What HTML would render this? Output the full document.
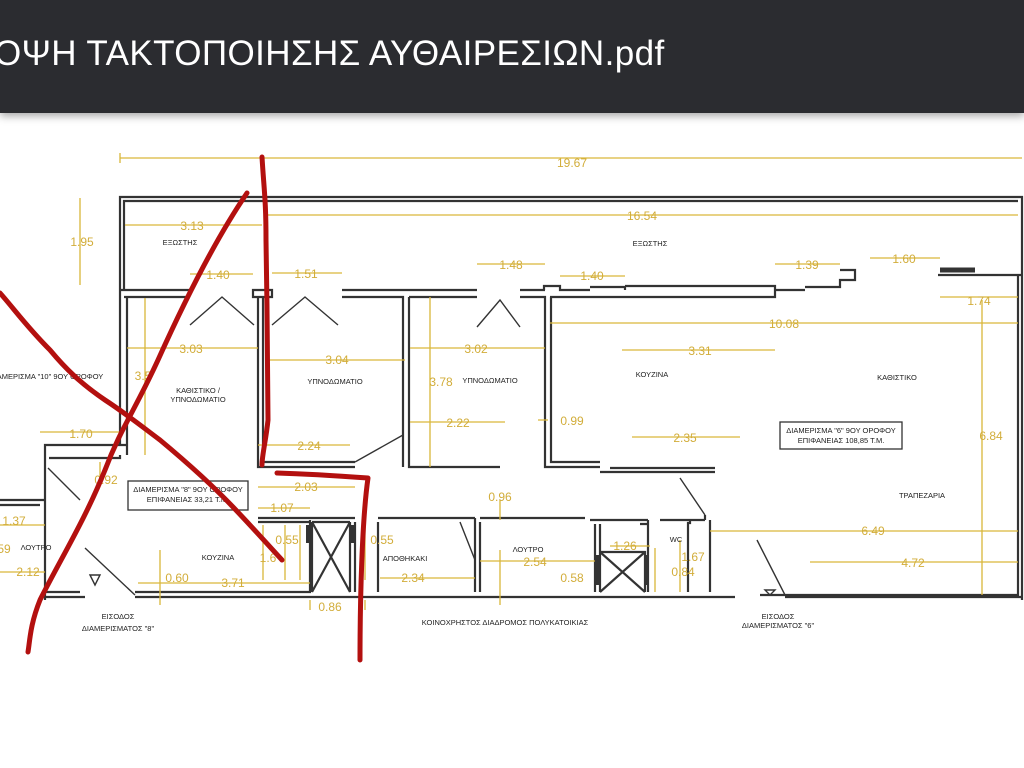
<!DOCTYPE html>
<html><head><meta charset="utf-8"><style>
html,body{margin:0;padding:0;width:1024px;height:768px;overflow:hidden;background:#fff;}
#hdr{position:absolute;left:0;top:0;width:1024px;height:113px;background:#2b2c30;box-shadow:0 3px 8px rgba(0,0,0,.35);}
#hdr span{position:absolute;left:-6px;top:34px;font:35px "Liberation Sans","DejaVu Sans",sans-serif;color:#fff;letter-spacing:0.4px;white-space:nowrap;}
svg{position:absolute;left:0;top:0;}
.w{stroke:#333;stroke-width:2.2;fill:none}
.d{stroke:#d9b63a;stroke-width:1.3;fill:none}
.t{font-family:"Liberation Sans","DejaVu Sans",sans-serif;fill:#d2ad3a;font-size:12px;text-anchor:middle}
.l{font-family:"Liberation Sans","DejaVu Sans",sans-serif;fill:#222;font-size:7.5px;text-anchor:middle}
.r{stroke:#b3100f;stroke-width:5;fill:none;stroke-linecap:round;stroke-linejoin:round}
</style></head><body>
<svg width="1024" height="768" viewBox="0 0 1024 768">
<g class="w">
<path d="M120 290 V197 H1022 V270"/>
<path d="M124 290 V201 H1018"/>
<path d="M120 290 H190 M124 297 H190 M120 290 V445 M127 297 V445 H45 V600 M127 445 V455 M49 458 H120 V455"/>
<path d="M253 290 H272 V297 H253 Z"/>
<path d="M258 297 V462 M263 297 V462 H355 M258 462 V467 H355"/>
<path d="M342 290 H477 M342 297 H403 V467 M409 297 V467 H500 M409 297 H477"/>
<path d="M520 290 H545 M520 297 H545 V467 H600 M551 297 V462 H600"/>
<path d="M544 290 V286 H560 V290 M560 286 V290 H590 M590 287 H625 V290 M625 286 H775 V297 H625 M775 290 H805 M805 287 H840 V280 H855 V270 H840"/>
<path d="M938 275 H1022 M1022 270 V600 M1018 275 V595 H760"/>
<path d="M550 297 H625"/>
<path d="M45 597 H85 M45 592 H80 M135 592 H310 V520 M135 597 H735 M785 597 H1022"/>
<path d="M0 500 H45 M0 505 H40"/>
<path d="M258 518 H355 M258 522 H310 M355 522 V592 M378 518 H460 M378 522 V592 M460 518 H475 M475 518 V592 M480 522 V592 M480 518 H585 M590 520 H648 M595 524 V592 M600 524 V592 M648 520 V592 M648 524 H640"/>
<path d="M660 520 H690 V523 H688 V592 M710 520 V592 M690 520 H705 M705 515 V520"/>
<path d="M600 472 H715 M610 468 H715"/>
<path d="M312 522 V592 M350 522 V592 M312 522 H350 M312 522 L350 592 M350 522 L312 592"/>
<path d="M600 552 H645 V592 M600 552 L645 592 M645 552 L600 592"/>
<path d="M940 270 H975" stroke-width="5"/>
</g>
<g stroke="#333" stroke-width="1.4" fill="none">
<path d="M190 325 L222 297 L254 325 M272 325 L305 297 L338 325 M477 327 L500 300 L520 327"/>
<path d="M355 462 L403 435 M48 468 L80 500 M85 548 L135 595 M460 522 L475 560 M680 478 L705 515 M757 540 L785 595"/>
<path d="M90 575 L95 585 L100 575 Z M770 595 L765 590 L775 590 Z"/>
</g>
<g fill="#333"><rect x="306" y="525" width="4" height="18"/><rect x="351" y="525" width="4" height="18"/><rect x="596" y="555" width="3" height="30"/><rect x="646" y="555" width="3" height="30"/></g>
<g class="d">
<path d="M120 158 H1022 M120 153 V163"/>
<path d="M80 198 V285"/>
<path d="M125 225 H262 M265 215 H1018"/>
<path d="M190 274 H253 M272 273 H342 M477 264 H545 M560 276 H625 M775 264 H840 M870 258 H940 M940 297 H1018"/>
<path d="M127 348 H258 M145 298 V455 M268 360 H405 M410 348 H545 M430 297 V467 M410 422 H505 M550 323 H1018 M622 350 H775 M632 437 H740 M538 420 H548"/>
<path d="M982 300 V595 M258 445 H350 M40 432 H120 M100 462 V480"/>
<path d="M258 487 H355 M258 508 H310 M263 525 V580 M285 525 V580 M300 525 V580 M365 525 V580 M365 600 V610 M310 600 V610"/>
<path d="M138 583 H310 M160 550 V605 M380 578 H475 M480 561 H595 M500 500 V520 M500 550 V605"/>
<path d="M0 525 H45 M0 572 H45 M610 546 H650 M655 548 V592 M680 540 V592 M710 531 H1018 M810 562 H1018"/>
</g>
<g class="t">
<text x="572" y="167">19.67</text>
<text x="82" y="246">1.95</text>
<text x="192" y="230">3.13</text>
<text x="642" y="220">16.54</text>
<text x="218" y="279">1.40</text>
<text x="306" y="278">1.51</text>
<text x="511" y="269">1.48</text>
<text x="592" y="280">1.40</text>
<text x="807" y="269">1.39</text>
<text x="904" y="263">1.60</text>
<text x="979" y="305">1.74</text>
<text x="191" y="353">3.03</text>
<text x="337" y="364">3.04</text>
<text x="476" y="353">3.02</text>
<text x="784" y="328">10.08</text>
<text x="143" y="380">3.5</text>
<text x="441" y="386">3.78</text>
<text x="700" y="355">3.31</text>
<text x="458" y="427">2.22</text>
<text x="572" y="425">0.99</text>
<text x="685" y="442">2.35</text>
<text x="991" y="440">6.84</text>
<text x="81" y="438">1.70</text>
<text x="309" y="450">2.24</text>
<text x="106" y="484">0.92</text>
<text x="306" y="491">2.03</text>
<text x="500" y="501">0.96</text>
<text x="282" y="512">1.07</text>
<text x="14" y="525">1.37</text>
<text x="287" y="544">0.55</text>
<text x="382" y="544">0.55</text>
<text x="268" y="562">1.6</text>
<text x="4" y="553">59</text>
<text x="28" y="576">2.12</text>
<text x="177" y="582">0.60</text>
<text x="233" y="587">3.71</text>
<text x="413" y="582">2.34</text>
<text x="535" y="566">2.54</text>
<text x="572" y="582">0.58</text>
<text x="625" y="550">1.26</text>
<text x="693" y="561">1.67</text>
<text x="683" y="576">0.84</text>
<text x="873" y="535">6.49</text>
<text x="913" y="567">4.72</text>
<text x="330" y="611">0.86</text>
</g>
<g class="l">
<text x="180" y="245">ΕΞΩΣΤΗΣ</text>
<text x="650" y="246">ΕΞΩΣΤΗΣ</text>
<text x="50" y="379">ΑΜΕΡΙΣΜΑ "10" 9ΟΥ ΟΡΟΦΟΥ</text>
<text x="198" y="393">ΚΑΘΙΣΤΙΚΟ /</text>
<text x="198" y="402">ΥΠΝΟΔΩΜΑΤΙΟ</text>
<text x="335" y="384">ΥΠΝΟΔΩΜΑΤΙΟ</text>
<text x="490" y="383">ΥΠΝΟΔΩΜΑΤΙΟ</text>
<text x="652" y="377">ΚΟΥΖΙΝΑ</text>
<text x="897" y="380">ΚΑΘΙΣΤΙΚΟ</text>
<text x="188" y="492">ΔΙΑΜΕΡΙΣΜΑ "8" 9ΟΥ ΟΡΟΦΟΥ</text>
<text x="188" y="502">ΕΠΙΦΑΝΕΙΑΣ 33,21 Τ.Μ.</text>
<text x="841" y="433">ΔΙΑΜΕΡΙΣΜΑ "6" 9ΟΥ ΟΡΟΦΟΥ</text>
<text x="841" y="443">ΕΠΙΦΑΝΕΙΑΣ 108,85 Τ.Μ.</text>
<text x="922" y="498">ΤΡΑΠΕΖΑΡΙΑ</text>
<text x="36" y="550">ΛΟΥΤΡΟ</text>
<text x="218" y="560">ΚΟΥΖΙΝΑ</text>
<text x="405" y="561">ΑΠΟΘΗΚΑΚΙ</text>
<text x="528" y="552">ΛΟΥΤΡΟ</text>
<text x="676" y="542">WC</text>
<text x="118" y="619">ΕΙΣΟΔΟΣ</text>
<text x="118" y="631">ΔΙΑΜΕΡΙΣΜΑΤΟΣ "8"</text>
<text x="505" y="625">ΚΟΙΝΟΧΡΗΣΤΟΣ ΔΙΑΔΡΟΜΟΣ ΠΟΛΥΚΑΤΟΙΚΙΑΣ</text>
<text x="778" y="619">ΕΙΣΟΔΟΣ</text>
<text x="778" y="628">ΔΙΑΜΕΡΙΣΜΑΤΟΣ "6"</text>
</g>
<rect x="128" y="481" width="120" height="29" fill="none" stroke="#333" stroke-width="1.3"/>
<rect x="780" y="422" width="122" height="27" fill="none" stroke="#333" stroke-width="1.3"/>
<path class="r" d="M247 193 C215 240 185 300 158 360 C135 410 120 430 105 470 C85 520 60 560 40 600 C30 625 30 640 28 652"/>
<path class="r" d="M0 293 C15 310 27 327 50 350 C65 368 80 383 105 400 C125 413 140 425 160 440 C190 465 215 488 233 507 C255 530 268 545 282 560"/>
<path class="r" d="M262 157 C264 190 266 200 266 240 C267 300 268 380 268 420 C266 440 262 455 262 465 M277 473 C310 474 340 476 368 478 C362 520 360 600 360 660"/>
</svg>
<div id="hdr"><span>ΟΨΗ ΤΑΚΤΟΠΟΙΗΣΗΣ ΑΥΘΑΙΡΕΣΙΩΝ.pdf</span></div>
</body></html>
